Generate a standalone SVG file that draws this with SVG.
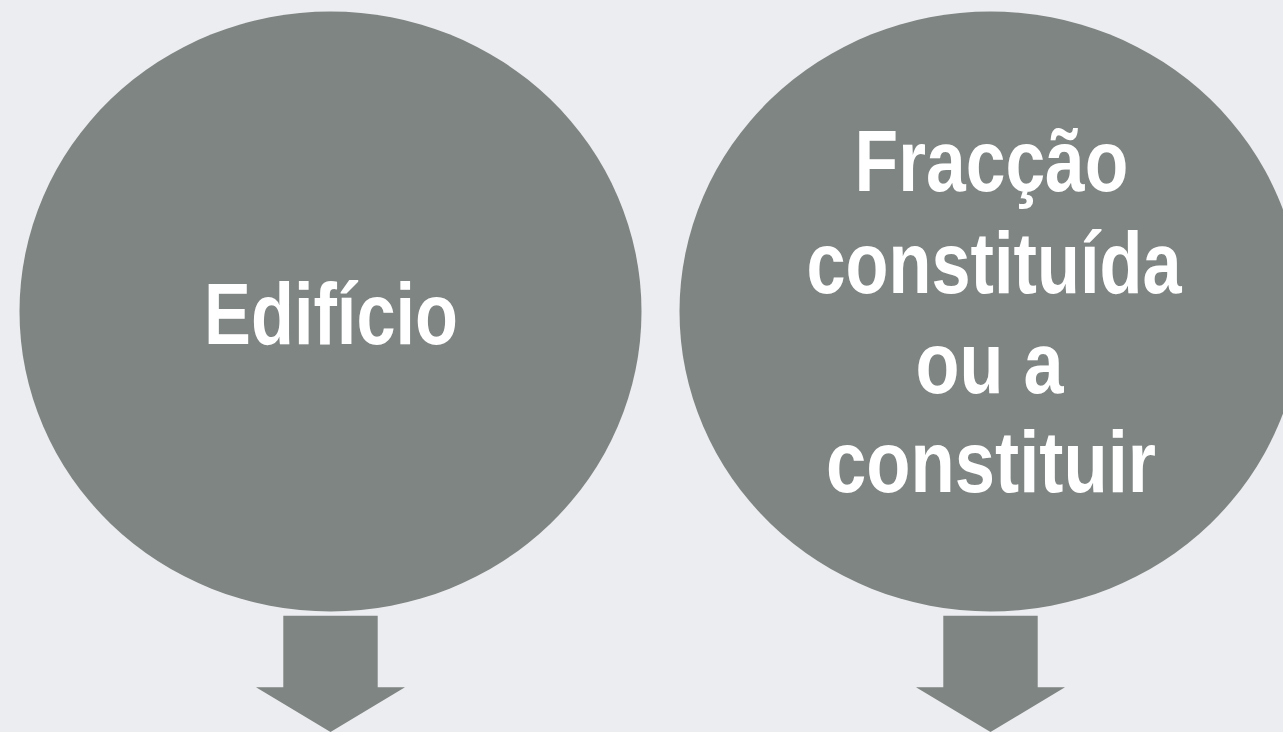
<svg xmlns="http://www.w3.org/2000/svg" width="1283" height="732" viewBox="0 0 1283 732">
  <style>
    .bg { fill: #ecedf0; }
    .circle { fill: #7f8582; }
    .arrow { fill: #7f8582; }
    .label { fill: #ffffff; font-family: "Liberation Sans", Arial, sans-serif; font-weight: bold; font-size: 88px; text-anchor: middle; }
  </style>
  <rect class="bg" x="0" y="0" width="1283" height="732"/>
  <g id="node-edificio">
    <ellipse class="circle" cx="330.5" cy="311.5" rx="311" ry="300"/>
    <text class="label" x="331" y="344" textLength="254" lengthAdjust="spacingAndGlyphs">Edifício</text>
  </g>
  <g id="node-fraccao">
    <ellipse class="circle" cx="990.5" cy="311.5" rx="311" ry="300"/>
    <text class="label" x="991.5" y="191" textLength="274" lengthAdjust="spacingAndGlyphs">Fracção</text>
    <text class="label" x="994" y="293" textLength="375" lengthAdjust="spacingAndGlyphs">constituída</text>
    <text class="label" x="989.5" y="393" textLength="148" lengthAdjust="spacingAndGlyphs">ou a</text>
    <text class="label" x="991" y="492" textLength="330" lengthAdjust="spacingAndGlyphs">constituir</text>
  </g>
  <g id="connectors">
    <polygon class="arrow" points="283.3,615.7 377.7,615.7 377.7,687.3 405,687.3 330.5,732 256,687.3 283.3,687.3"/>
    <polygon class="arrow" points="943.3,615.7 1037.7,615.7 1037.7,687.3 1065,687.3 990.5,732 916,687.3 943.3,687.3"/>
  </g>
</svg>
